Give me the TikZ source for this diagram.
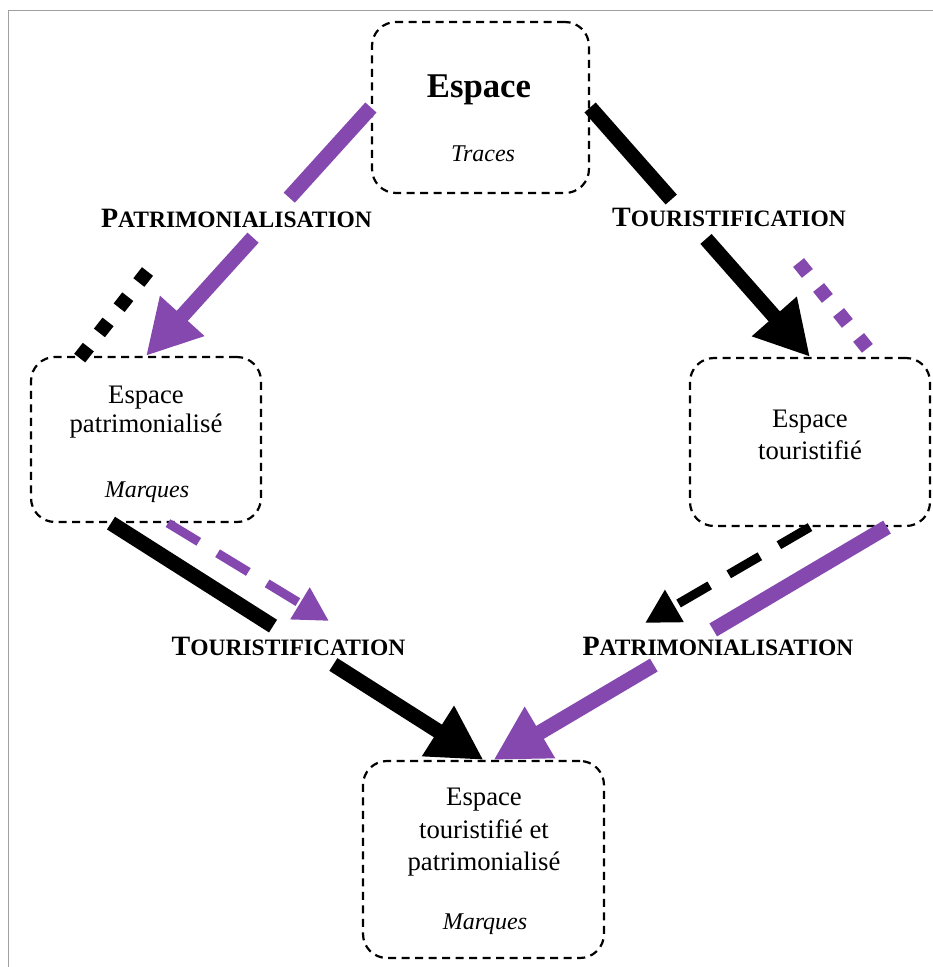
\documentclass[tikz,border=0pt]{standalone}
\usepackage{fontspec}
\setmainfont{Liberation Serif}
\usetikzlibrary{arrows.meta,calc}
\definecolor{vio}{RGB}{132,72,175}
\definecolor{framegray}{RGB}{160,160,160}
\newcommand\fakesc[2]{{\fontsize{28}{30}\selectfont #1}{\fontsize{23.5}{30}\selectfont #2}}
\begin{document}
\begin{tikzpicture}[x=1pt,y=-1pt,
  boxnode/.style={draw, line width=2.2pt, dash pattern=on 8pt off 5.5pt, rounded corners=24pt, inner sep=0pt},
  rmtext/.style={anchor=base, inner sep=0pt, font=\fontsize{26.7}{32}\selectfont},
  ittext/.style={anchor=base, inner sep=0pt, font=\fontsize{24}{30}\selectfont\itshape},
  lbl/.style={anchor=base, inner sep=0pt, font=\bfseries},
  fatline/.style={line width=15pt},
  bigtip/.style={-{Triangle[length=54pt,width=56pt]}},
  dashln/.style={line width=9pt, dash pattern=on 36pt off 22pt},
  midtip/.style={-{Triangle[length=34pt,width=35pt]}},
  dotln/.style={line width=14pt, dash pattern=on 14pt off 18pt},
]
\useasboundingbox (0,0) rectangle (933,967);
% frame
\draw[framegray, line width=1.5pt] (8.5,967) -- (8.5,10.5) -- (933,10.5);

% boxes
\node[boxnode, minimum width=217pt, minimum height=171pt] (top) at (480.5,107.5) {};
\node[boxnode, minimum width=230pt, minimum height=165pt] (left) at (146,439.5) {};
\node[boxnode, minimum width=240pt, minimum height=168pt] (right) at (810,442) {};
\node[boxnode, minimum width=241pt, minimum height=197pt] (bottom) at (483.5,859.5) {};

% box texts
\node[rmtext, font=\fontsize{34.7}{40}\selectfont\bfseries] (t1) at (479,97) {Espace};
\node[ittext] (t2) at (483,161) {Traces};
\node[rmtext] (l1) at (146,403) {Espace};
\node[rmtext] (l2) at (146,432) {patrimonialisé};
\node[ittext] (l3) at (147,497) {Marques};
\node[rmtext] (r1) at (810,427) {Espace};
\node[rmtext] (r2) at (810,459) {touristifié};
\node[rmtext] (b1) at (484,805) {Espace};
\node[rmtext] (b2) at (484,838) {touristifié et};
\node[rmtext] (b3) at (484,870) {patrimonialisé};
\node[ittext] (b4) at (485,929) {Marques};

% labels
\node[lbl] (lab1) at (236.5,227) {\fakesc{P}{ATRIMONIALISATION}};
\node[lbl] (lab2) at (729,226) {\fakesc{T}{OURISTIFICATION}};
\node[lbl] (lab3) at (288.5,655) {\fakesc{T}{OURISTIFICATION}};
\node[lbl] (lab4) at (718,655) {\fakesc{P}{ATRIMONIALISATION}};

% free ends
\coordinate (dA) at (147.5,271.5);
\coordinate (dB) at (79,359);
\coordinate (pA) at (798.6,262.5);
\coordinate (pB) at (867.4,348.4);
\coordinate (tipA6) at (329,621);
\coordinate (tipA7) at (645,623);

% top-left purple: patrimonialisation
\draw[vio, fatline] (top.west) -- ($(top.west)!0.363!(left.north)$);
\draw[vio, fatline, bigtip] ($(top.west)!0.524!(left.north)$) -- (left.north);
% top-right black: touristification
\draw[black, fatline] (top.east) -- ($(top.east)!0.369!(right.north)$);
\draw[black, fatline, bigtip] ($(top.east)!0.527!(right.north)$) -- (right.north);
% dotted
\draw[black, dotln] (dA) -- (dB);
\draw[vio, dotln] (pA) -- (pB);
% bottom-left black
\draw[black, fatline] ([xshift=-35pt]left.south) -- ($([xshift=-35pt]left.south)!0.435!(bottom.north)$);
\draw[black, fatline, bigtip] ($([xshift=-35pt]left.south)!0.597!(bottom.north)$) -- (bottom.north);
% bottom-left purple dashed
\draw[vio, dashln, midtip] ([xshift=22pt]left.south) -- (tipA6);
% bottom-right black dashed
\draw[black, dashln, midtip] (right.south) -- (tipA7);
% bottom-right purple
\draw[vio, fatline] ([xshift=77pt]right.south) -- ($([xshift=77pt]right.south)!0.4416!([xshift=10pt]bottom.north)$);
\draw[vio, fatline, bigtip] ($([xshift=77pt]right.south)!0.5926!([xshift=10pt]bottom.north)$) -- ([xshift=10pt]bottom.north);
\end{tikzpicture}
\end{document}
